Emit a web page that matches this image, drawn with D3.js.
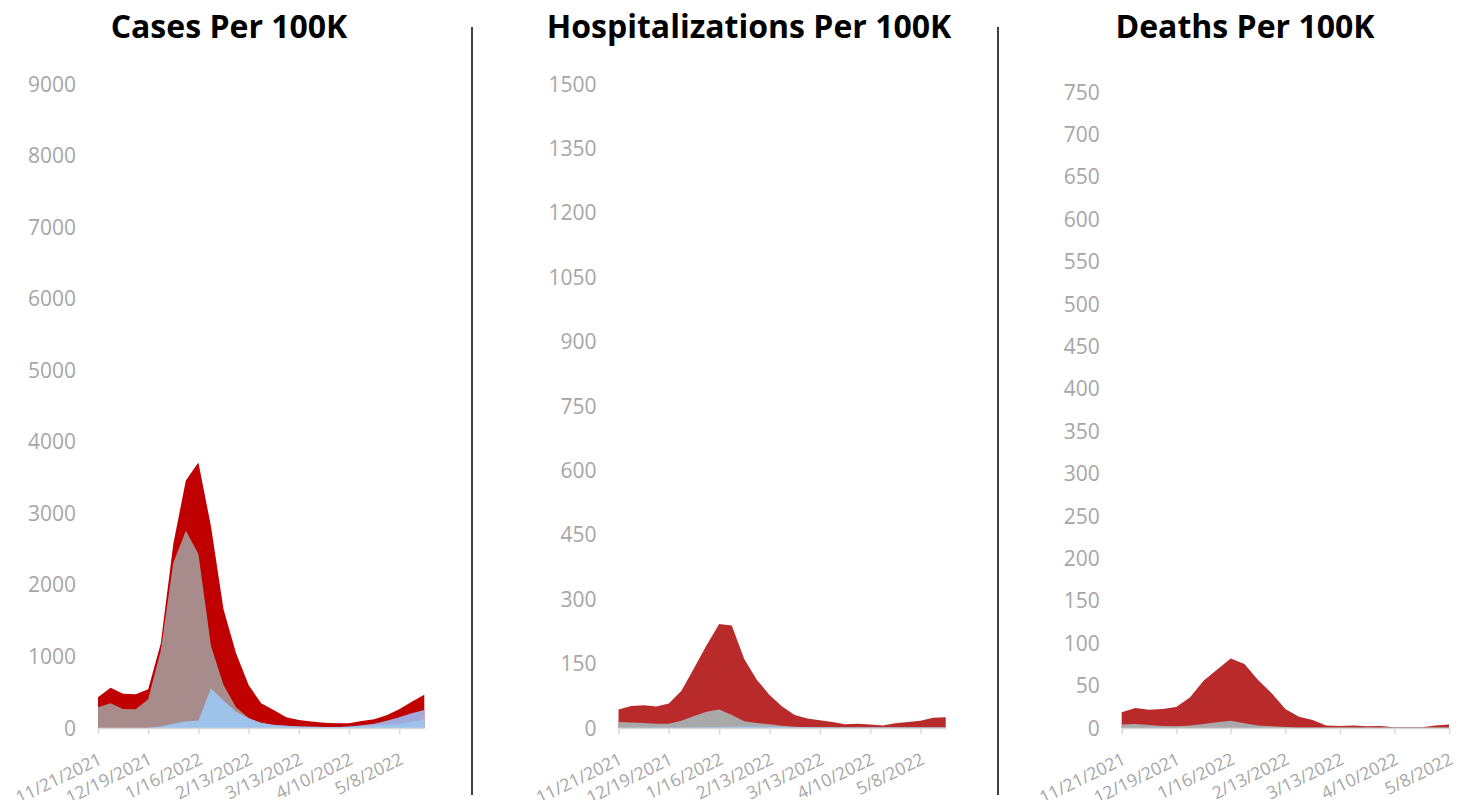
<!DOCTYPE html>
<html><head><meta charset="utf-8">
<script src="https://cdn.jsdelivr.net/npm/d3@7"></script>
<style>
body{margin:0;background:#fff;}
text{font-family:"Open Sans",sans-serif;}
</style></head>
<body><svg id="c" width="1465" height="800"></svg>
<script>
const dates = ["11/21/2021","11/28/2021","12/5/2021","12/12/2021","12/19/2021","12/26/2021","1/2/2022","1/9/2022","1/16/2022","1/23/2022","1/30/2022","2/6/2022","2/13/2022","2/20/2022","2/27/2022","3/6/2022","3/13/2022","3/20/2022","3/27/2022","4/3/2022","4/10/2022","4/17/2022","4/24/2022","5/1/2022","5/8/2022","5/15/2022","5/22/2022"];
const tickLabels = ["11/21/2021","12/19/2021","1/16/2022","2/13/2022","3/13/2022","4/10/2022","5/8/2022"];

const casesRed  = [430,563,478,470,540,1180,2570,3460,3710,2820,1660,1045,600,345,250,150,112,90,75,66,66,98,121,177,261,368,463];
const casesGrey = [289,345,265,261,401,1080,2310,2757,2430,1150,600,290,140,70,45,30,22,18,15,14,14,20,28,40,55,80,110];
const casesLav  = [0,0,0,0,0,0,0,0,0,0,0,0,0,0,0,0,0,0,5,10,20,40,60,100,150,205,252];
const casesBlue = [0,0,0,0,0,20,60,95,100,555,385,228,135,74,42,30,20,18,15,15,18,28,38,47,60,88,125];

const hospRed  = [43,51,53,50,57,87,139,193,242,239,160,112,77,50,30,22,18,14,9,10,8,6,11,14,17,24,25];
const hospGrey = [14,13,11.5,10,10,17,28,38,43,30,16,11.5,8.5,5,3,2,2,1.5,1,1,1,1,1,1,1,1,1];
const hospBlue = [0.5,0.5,0.5,0.5,0.5,0.5,1,1.5,2,3,3.5,3.5,3,2.5,2,1.5,1,1,1,1,1,1,1,1,1,1,1];

const deathDates = dates.slice(0,25);
const deathRed  = [18.5,23.5,21.5,22.4,24.8,36,55.8,69,82,75.5,56.6,41,22.4,13.4,9.4,3,2.5,3,2,2.5,1,0.8,1,3,4];
const deathGrey = [4,4.7,3.5,2.4,2,3,4.7,6.7,8.6,5.5,3,2,1.2,0.5,0.5,0.5,0.5,0.5,0.5,0.5,0.5,0.5,0.5,0.5,0.5];

const titles = ["Cases Per 100K","Hospitalizations Per 100K","Deaths Per 100K"];

const parse = d3.timeParse("%m/%d/%Y");
const fmt = d => (d.getMonth()+1)+"/"+d.getDate()+"/"+d.getFullYear();
const svg = d3.select("#c");

function panel(cfg){
  const dts = cfg.dates.map(parse);
  const x = d3.scaleTime().domain(d3.extent(dts)).range(cfg.xr);
  const y = d3.scaleLinear().domain([0,cfg.ymax]).range(cfg.yr);
  const g = svg.append("g");
  g.append("text").attr("x",cfg.tx).attr("y",38).attr("text-anchor","middle")
    .attr("font-size",32).attr("font-weight",700).attr("fill","#000").text(cfg.title);
  const yt = d3.range(0,cfg.ymax+1e-9,cfg.ystep);
  g.selectAll(".yl").data(yt).enter().append("text")
    .attr("x",cfg.xr[0]-22).attr("y",d=>y(d)).attr("dy","0.36em")
    .attr("text-anchor","end").attr("font-size",21).attr("fill","#a6a6a6").text(d=>d);
  cfg.series.forEach(s=>{
    const area = d3.area().x((d,i)=>x(dts[i])).y0(y(0)).y1(d=>y(d));
    g.append("path").datum(s.values).attr("d",area).attr("fill",s.color);
  });
  const ax = d3.axisBottom(x).tickValues(tickLabels.map(parse)).tickFormat(fmt).tickSize(6).tickSizeOuter(0);
  const axg = g.append("g").attr("transform",`translate(0,${y(0)})`).call(ax);
  axg.select(".domain").attr("stroke","#d9d9d9").attr("stroke-width",1.5);
  axg.selectAll(".tick line").attr("stroke","#d9d9d9").attr("stroke-width",1.5);
  axg.selectAll(".tick text").attr("font-size",17.5).attr("fill","#a6a6a6")
    .attr("font-family","Open Sans").attr("text-anchor","end")
    .attr("y",0).attr("x",0).attr("dy","0.72em")
    .attr("transform","translate(-1,24) rotate(-26)");
}

panel({title:titles[0],tx:229,dates:dates,xr:[98,424.3],yr:[728,84],ymax:9000,ystep:1000,
  series:[{values:casesRed,color:"#c00000"},{values:casesGrey,color:"#a88c8c"},{values:casesLav,color:"#a3a9da"},{values:casesBlue,color:"#9dc3ea"}]});
panel({title:titles[1],tx:749,dates:dates,xr:[618.5,945.7],yr:[728,84],ymax:1500,ystep:150,
  series:[{values:hospRed,color:"#b92a2a"},{values:hospGrey,color:"#a9a9a9"},{values:hospBlue,color:"#9dc3ea"}]});
panel({title:titles[2],tx:1245,dates:deathDates,xr:[1121.7,1449],yr:[728,92],ymax:750,ystep:50,
  series:[{values:deathRed,color:"#b92a2a"},{values:deathGrey,color:"#a9a9a9"}]});

[472,998].forEach(xx=>svg.append("line").attr("x1",xx).attr("x2",xx).attr("y1",27).attr("y2",795)
  .attr("stroke","#404040").attr("stroke-width",2));
</script></body></html>
